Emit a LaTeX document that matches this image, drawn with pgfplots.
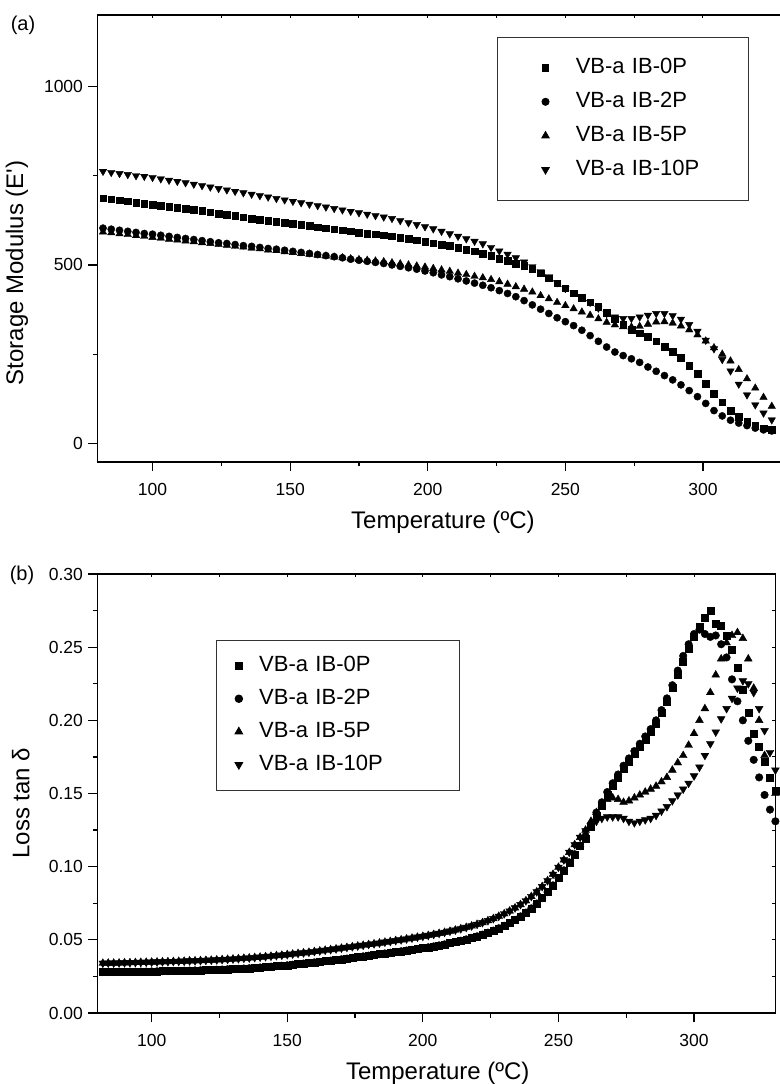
\documentclass[border=0pt]{standalone}
\usepackage{fontspec}
\setmainfont{Liberation Sans}
\usepackage{pgfplots}
\usepackage{pgfplotstable}
\pgfplotsset{compat=1.18}

% storage modulus
\pgfplotstableread{
x   p0  p2  p5  p10
82  687 603 592 762
85  684 600 590 759
88  681 597 587 756
91  678 594 585 753
94  675 591 582 750
97  672 588 580 748
100 669 586 577 745
103 666 583 575 741
106 663 580 572 737
109 660 577 570 734
112 657 574 567 730
115 654 571 565 726
118 651 568 562 722
121 648 565 560 718
124 644 562 557 714
127 641 560 555 710
130 638 557 552 706
133 634 554 550 702
136 630 552 547 698
139 627 549 545 694
142 624 546 542 690
145 621 544 540 686
148 618 541 537 682
151 615 538 535 678
154 612 535 532 674
157 609 532 530 670
160 606 529 527 666
163 603 526 525 662
166 600 523 522 658
169 597 520 520 654
172 594 516 517 650
175 591 513 515 646
178 588 510 513 642
181 586 507 511 638
184 583 504 509 634
187 580 500 506 630
190 577 496 503 624
193 573 492 500 618
196 569 488 497 613
199 565 483 494 607
202 561 478 490 601
205 557 472 486 594
208 553 467 482 587
211 548 461 477 580
214 543 455 473 573
217 538 449 468 566
220 532 443 464 559
223 525 436 459 549
226 518 428 453 539
229 511 420 446 530
232 504 411 439 520
235 497 400 432 508
238 488 388 424 495
241 477 376 414 481
244 463 364 405 467
247 449 352 395 450
250 435 341 386 434
253 421 330 377 423
256 408 317 368 411
259 396 302 359 395
262 383 286 349 379
265 366 270 339 364
268 348 256 332 354
271 332 246 327 350
274 318 237 326 350
277 309 227 328 354
280 299 214 334 359
283 286 202 340 364
286 271 190 341 364
289 257 178 337 358
292 240 164 329 348
295 218 148 318 333
298 195 131 304 314
301 168 112 287 289
304 140 92  268 265
307 115 77  250 235
310 92  65  231 203
313 75  57  207 166
316 61  50  181 136
319 50  43  155 108
322 43  38  129 85
325 38  35  104 66
}\storage

% loss tan delta
\pgfplotstableread{
x   p0    p2    p5    p10
82  .0280 .0280 .0340 .0340
84  .0280 .0280 .0341 .0341
86  .0280 .0280 .0341 .0341
88  .0281 .0281 .0342 .0342
90  .0281 .0281 .0343 .0343
92  .0282 .0282 .0344 .0344
94  .0282 .0282 .0345 .0345
96  .0283 .0283 .0346 .0346
98  .0283 .0283 .0347 .0347
100 .0284 .0284 .0348 .0348
102 .0285 .0285 .0349 .0349
104 .0286 .0286 .0350 .0350
106 .0286 .0286 .0351 .0351
108 .0287 .0287 .0352 .0352
110 .0288 .0288 .0353 .0353
112 .0289 .0289 .0354 .0354
114 .0290 .0290 .0356 .0356
116 .0291 .0291 .0357 .0357
118 .0292 .0292 .0358 .0358
120 .0293 .0293 .0360 .0360
122 .0294 .0294 .0361 .0361
124 .0296 .0296 .0363 .0363
126 .0297 .0297 .0365 .0365
128 .0299 .0299 .0367 .0367
130 .0300 .0300 .0369 .0369
132 .0302 .0302 .0371 .0371
134 .0304 .0304 .0374 .0374
136 .0306 .0306 .0376 .0376
138 .0308 .0308 .0379 .0379
140 .0311 .0311 .0382 .0382
142 .0314 .0314 .0385 .0385
144 .0317 .0317 .0388 .0388
146 .0320 .0320 .0392 .0392
148 .0323 .0323 .0395 .0395
150 .0326 .0326 .0399 .0399
152 .0330 .0330 .0403 .0403
154 .0334 .0334 .0407 .0407
156 .0338 .0338 .0411 .0411
158 .0342 .0342 .0415 .0415
160 .0346 .0346 .0420 .0420
162 .0350 .0350 .0424 .0424
164 .0354 .0354 .0429 .0429
166 .0358 .0358 .0433 .0433
168 .0363 .0363 .0438 .0438
170 .0367 .0367 .0443 .0443
172 .0372 .0372 .0448 .0448
174 .0377 .0377 .0453 .0453
176 .0382 .0382 .0458 .0458
178 .0387 .0387 .0463 .0463
180 .0392 .0392 .0468 .0468
182 .0397 .0397 .0473 .0473
184 .0402 .0402 .0478 .0478
186 .0407 .0407 .0484 .0484
188 .0412 .0412 .0489 .0489
190 .0417 .0417 .0495 .0495
192 .0422 .0422 .0500 .0500
194 .0427 .0427 .0506 .0506
196 .0432 .0432 .0512 .0512
198 .0437 .0437 .0518 .0518
200 .0443 .0443 .0524 .0524
202 .0449 .0449 .0530 .0530
204 .0455 .0455 .0537 .0537
206 .0462 .0462 .0544 .0544
208 .0469 .0469 .0551 .0551
210 .0477 .0477 .0559 .0559
212 .0485 .0485 .0567 .0567
214 .0494 .0494 .0576 .0576
216 .0503 .0503 .0585 .0585
218 .0513 .0513 .0595 .0595
220 .0524 .0524 .0606 .0606
222 .0536 .0536 .0618 .0618
224 .0549 .0549 .0631 .0631
226 .0563 .0563 .0645 .0645
228 .0579 .0579 .0661 .0661
230 .0596 .0596 .0678 .0678
232 .0615 .0615 .0697 .0697
234 .0636 .0636 .0718 .0718
236 .0660 .0660 .0741 .0741
238 .0686 .0686 .0767 .0767
240 .0715 .0715 .0796 .0796
242 .0748 .0748 .0828 .0828
244 .0785 .0785 .0864 .0864
246 .0826 .0826 .0904 .0904
248 .0872 .0872 .0948 .0948
250 .0922 .0922 .0996 .0996
252 .0975 .0975 .1046 .1046
254 .1030 .1030 .1098 .1098
256 .1085 .1085 .1150 .1150
258 .1140 .1140 .1200 .1200
260 .119  .121  .125  .1245
262 .127  .129  .131  .128
264 .135  .137  .137  .131
266 .142  .144  .142  .133
268 .149  .151  .146  .134
270 .155  .157  .147  .134
272 .161  .163  .146  .134
274 .167  .169  .144  .133
276 .172  .174  .145  .131
278 .177  .179  .147  .130
280 .182  .184  .149  .131
282 .187  .189  .151  .132
284 .192  .194  .153  .133
286 .198  .200  .155  .135
288 .205  .207  .158  .138
290 .213  .215  .161  .141
292 .222  .224  .166  .145
294 .231  .234  .171  .149
296 .240  .244  .176  .153
298 .249  .252  .183  .157
300 .257  .259  .191  .162
302 .264  .262  .200  .168
304 .270  .259  .208  .176
306 .275  .257  .219  .184
308 .266  .258  .231  .192
310 .265  .252  .242  .201
312 .258  .243  .253  .208
314 .248  .228  .258  .215
316 .236  .213  .260  .222
318 .221  .200  .256  .227
320 .205  .186  .242  .225
322 .191  .173  .222  .219
324 .182  .161  .200  .208
326 .172  .149  .176  .193
328 .161  .139  .160  .178
330 .152  .131  .150  .166
}\losstan

\pgfplotsset{
  dma/.style={
    scale only axis,
    xmin=80,
    axis line style={line width=1.2pt},
    tick style={line width=1.2pt, black},
    tick align=outside,
    xtick pos=left, ytick pos=left,
    major tick length=9pt, minor tick length=4.5pt,
    xtick={100,150,200,250,300}, minor x tick num=1,
    /pgf/number format/assume math mode=true,
    tick label style={font=\fontsize{17.5}{20}\selectfont},
    xticklabel style={yshift=-9pt},
    yticklabel style={xshift=-2pt},
    label style={font=\fontsize{24}{28}\selectfont},
    legend cell align=left,
  },
  inticks/.style={
    scale only axis,
    xmin=80,
    axis line style={draw=none},
    tick align=inside,
    major tick length=3pt, minor tick length=3pt,
    tick style={line width=1pt, black},
    xticklabels={}, yticklabels={},
    xtick={100,150,200,250,300}, minor x tick num=1,
    xtick pos=right, ytick pos=right,
  },
  m0/.style={only marks, black, mark=square*, mark size=3.3pt},
  m2/.style={only marks, black, mark=*, mark size=3.6pt},
  m5/.style={only marks, black, mark=triangle*, mark size=4.3pt},
  m10/.style={only marks, black, mark=triangle*, mark size=4.3pt, mark options={rotate=180}},
}

\begin{document}
\begin{tikzpicture}
\useasboundingbox (0,0) rectangle (779pt,1084pt);

% (a) storage modulus
\begin{axis}[dma,
  at={(97.5pt,622pt)}, anchor=south west,
  width=683.9pt, height=447pt,
  xmax=328.5, ymin=-52, ymax=1200,
  ytick={0,500,1000}, minor y tick num=1,
  yticklabel style={/pgf/number format/1000 sep={}},
  xlabel={Temperature (ºC)},
  ylabel={Storage Modulus (E\textquotesingle)},
  xlabel style={at={(axis description cs:0.505,-0.134)}, anchor=center},
  ylabel style={at={(axis description cs:-0.118,0.423)}, anchor=center},
  legend style={at={(0.584,0.951)}, anchor=north west,
    draw=black!80, line width=0.8pt,
    inner xsep=44.5pt, inner ysep=20.5pt, row sep=14pt,
    font=\fontsize{22}{26}\selectfont,
    nodes={inner sep=0pt, text height=16pt, text depth=4pt},
    /tikz/every odd column/.append style={column sep=26.5pt},
    /tikz/every even column/.append style={text width=128pt, align=left}},
]
\addplot[m0] table[x=x, y=p0] {\storage};
\addplot[m2] table[x=x, y=p2] {\storage};
\addplot[m5] table[x=x, y=p5] {\storage};
\addplot[m10] table[x=x, y=p10] {\storage};
\legend{VB-a IB-0P, VB-a IB-2P, VB-a IB-5P, VB-a IB-10P}
\end{axis}
\begin{axis}[inticks,
  at={(97.5pt,622pt)}, anchor=south west,
  width=683.9pt, height=447pt,
  xmax=328.5, ymin=-52, ymax=1200, ytick=\empty]
\addplot[draw=none] coordinates {(100,0)};
\end{axis}

% (b) loss tan delta
\begin{axis}[dma,
  at={(97.4pt,71pt)}, anchor=south west,
  width=678pt, height=439pt,
  xmax=330, ymin=0, ymax=0.30,
  ytick={0,0.05,0.10,0.15,0.20,0.25,0.30}, minor y tick num=1,
  yticklabel style={/pgf/number format/.cd, fixed, fixed zerofill, precision=2},
  xlabel={Temperature (ºC)},
  ylabel={Loss tan δ},
  xlabel style={at={(axis description cs:0.502,-0.137)}, anchor=center},
  ylabel style={at={(axis description cs:-0.113,0.478)}, anchor=center},
  legend style={at={(0.175,0.850)}, anchor=north west,
    draw=black!80, line width=0.8pt,
    inner xsep=18.5pt, inner ysep=15.5pt, row sep=13pt,
    font=\fontsize{22}{26}\selectfont,
    nodes={inner sep=0pt, text height=16pt, text depth=4pt},
    /tikz/every odd column/.append style={column sep=16.5pt},
    /tikz/every even column/.append style={text width=181.5pt, align=left}},
]
\addplot[m0, mark size=3.5pt] table[x=x, y=p0] {\losstan};
\addplot[m2, mark size=3.8pt] table[x=x, y=p2] {\losstan};
\addplot[m5, mark size=4.5pt] table[x=x, y=p5] {\losstan};
\addplot[m10, mark size=4.5pt] table[x=x, y=p10] {\losstan};
\legend{VB-a IB-0P, VB-a IB-2P, VB-a IB-5P, VB-a IB-10P}
\end{axis}
\begin{axis}[inticks,
  at={(97.4pt,71pt)}, anchor=south west,
  width=678pt, height=439pt,
  xmax=330, ymin=0, ymax=0.30,
  ytick={0.025,0.05,0.075,0.1,0.125,0.15,0.175,0.2,0.225,0.25,0.275}]
\addplot[draw=none] coordinates {(100,0.1)};
\end{axis}

\node[font=\fontsize{20}{24}\selectfont] at (23pt,1059pt) {(a)};
\node[font=\fontsize{20}{24}\selectfont] at (22pt,509pt) {(b)};
\end{tikzpicture}
\end{document}
